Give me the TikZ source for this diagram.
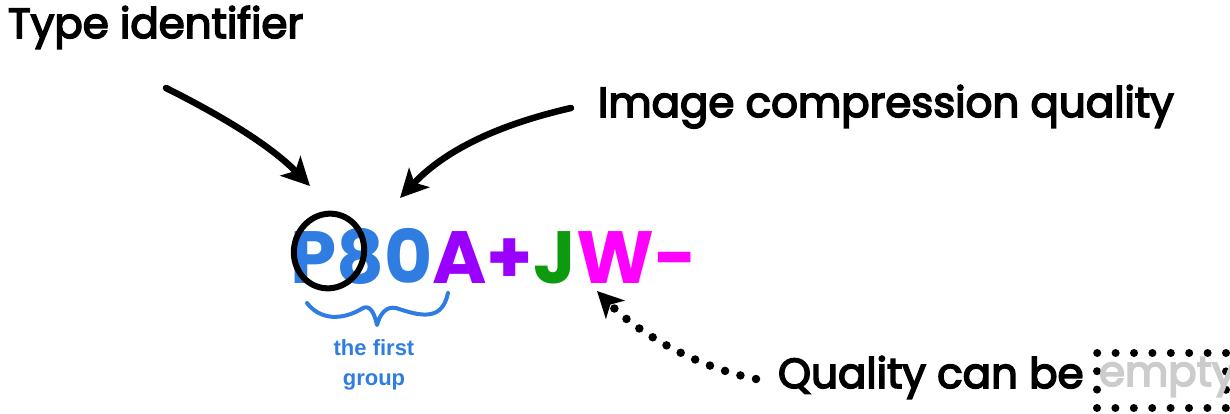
\documentclass[tikz,border=0pt]{standalone}
\usepackage{fontspec}
\setmainfont{Poppins}
\newfontfamily\lblfont{Poppins}
\newfontfamily\smallsans{Liberation Sans}
\newcommand\embolden[1]{\special{pdf:literal direct 2 Tr 1.6 w}#1\special{pdf:literal direct 0 Tr}}
\usetikzlibrary{arrows.meta,shapes.geometric}
\definecolor{cblue}{HTML}{2F7DE1}
\definecolor{cpurple}{HTML}{9900FF}
\definecolor{cgreen}{HTML}{0E9A0E}
\definecolor{cmagenta}{HTML}{FF00FF}
\definecolor{emptygray}{HTML}{CCCCCC}
\begin{document}
\begin{tikzpicture}[x=1pt,y=-1pt,
  lbl/.style={font=\lblfont\fontsize{42}{46}\selectfont, inner sep=0pt, outer sep=0pt, anchor=base west},
  codetxt/.style={font=\bfseries\fontsize{74}{80}\selectfont, inner sep=0pt, outer sep=0pt, anchor=base west},
  bigarrow/.style={line width=6.5pt, line cap=round, -{Stealth[length=28pt,width=28pt,inset=7pt]}},
  dotarrow/.style={line width=8.5pt, line cap=round, dash pattern=on 0pt off 16pt, -{Stealth[length=26pt,width=26pt,inset=7pt]}},
  dotbox/.style={draw, line width=8pt, line cap=round, dash pattern=on 0pt off 18.4pt, minimum width=129pt, minimum height=55pt, inner sep=0pt},
  ring/.style={draw, ellipse, line width=6pt, minimum width=70pt, minimum height=75pt, inner sep=0pt, rotate=-15},
  bracestyle/.style={cblue, line width=4pt, line cap=round, line join=round}
]
\useasboundingbox (0,0) rectangle (1230,414);

% labels
\node[lbl] (type) at (8,38) {\embolden{Type identifier}};
\node[lbl] (img) at (598,117) {\embolden{Image compression quality}};
\node[lbl] (qual) at (778,388) {\embolden{Quality can be}};
\node[dotbox] (emptybox) at (1161.5,380.5) {};
\node[lbl, text=emptygray] (empty) at (1099,386) {\embolden{empty}};

% code string
\node[codetxt, text=cblue] (p) at (290,283) {P};
\node[codetxt, text=cblue] (n80) at (p.base east) {80};
\node[codetxt, text=cpurple] (aplus) at (n80.base east) {A+};
\node[codetxt, text=cgreen] (j) at (aplus.base east) {J};
\node[codetxt, text=cmagenta] (wminus) at (j.base east) {W-};

% ring around P
\node[ring] (circ) at (329,251) {};

% brace and its label
\coordinate (brL) at (307,303);
\coordinate (brR) at (448,293);
\coordinate (brTip) at (377,325);
\draw[bracestyle] (brL) .. controls (320,320) and (342,321) .. (363,308)
  .. controls (371,304) and (375,316) .. (brTip)
  .. controls (380,314) and (386,306) .. (396,308)
  .. controls (420,316) and (442,322) .. (brR);
\node[font=\smallsans\bfseries\fontsize{22}{30}\selectfont, text=cblue, align=center, inner sep=0pt] (grp) at (374,365) {the first\\group};

% arrows
\coordinate (a1s) at (166,88);
\coordinate (a1e) at (310,186);
\coordinate (a2s) at (571,108);
\coordinate (a2e) at (400,198);
\coordinate (a3s) at (756,379);
\coordinate (a3e) at (597,291);
\draw[bigarrow] (a1s) .. controls (220,115) and (270,145) .. (a1e);
\draw[bigarrow] (a2s) .. controls (510,122) and (450,145) .. (a2e);
\draw[dotarrow] (a3s) .. controls (700,368) and (640,335) .. (a3e);
\end{tikzpicture}
\end{document}
